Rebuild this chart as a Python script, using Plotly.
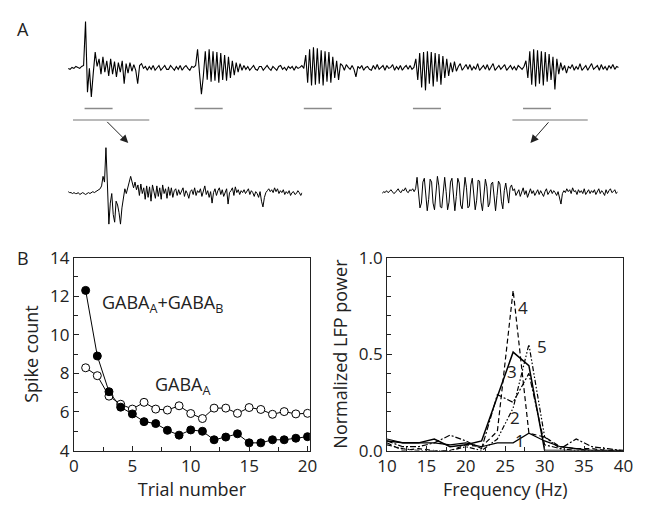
import plotly.graph_objects as go

W, H = 649, 517
FONT = "Open Sans"

# ---------------- Panel A data (LFP traces, amplitude in arbitrary units) -------------
top_seg0 = [0, -1, 1, 0, 2, 1, 0, 2, 3]
top_stim1 = [49, -25, 0, -30, -5, 17, 2, 10, -6, 12, -4, 8, -8, 10, -6, 7, -9, 6, -4, 8,
             -16, 5, -5, 6, -3, 4, -2, -16, 3, 5]
top_base1 = [0, 2, -2, 2, -1, 3, -2, 1, 3, -2, 1, 3, -1, -1, 3, 1, -2, 2, -1, 3, -2, 1, 3, 0,
             -2, 2, 1]
top_burst2 = [3, 20, -5, -27, -8, 18, -12, 20, -14, 18, -13, 17, -15, 16, -12, 14, -13, 12,
              -10, 8, -7]
top_base2 = [6, -4, 5, -2, 3, -1, 2, -2, 1, 3, -1, -2, 2, 2, -2, 0, 3, 0, -2, 2, 0, -2, 2, 3,
             -1, 1, -2, 2, 0, 2, -2, 2, 0, 1, 3, 0]
top_burst3 = [14, -15, 20, -18, 22, -17, 21, -16, 19, -18, 18, -14, 17, -15, 12, -10, 8, -12, 5]
top_base3 = [3, -2, 4, 1, -1, 3, -1, -9, 2, 0, 3, -2, 1, 2, -1, -2, 3, -1, 4, -1, 1, 3, -2, 3,
             0, 1, 4, -2, 2, -1, 3, -2, 1, 3, -1, 3, -1, 1]
top_burst4 = [10, -12, 16, -20, 17, -23, 18, -16, 17, -19, 16, -14, 15, -17, 13, -10, 10, -8,
              6, -4]
top_base4 = [7, -3, 2, 5, -2, 1, 4, -1, 4, -2, 2, -1, 5, -2, 1, 3, -1, 4, -2, 2, 5, -2, 1, 3,
             -1, 2, 4, -2, 1, 3, -1, 2, -2, 3, 1, -1, 2]
top_burst5 = [8, -10, 18, -17, 20, -19, 19, -16, 18, -18, 17, -14, 15, -12, 12, -22, 10, -6]
top_base5 = [6, -2, 3, -5, 2, 0, 4, -2, 2, -1, 5, -2, 1, 3, -2, 2, 5, -1, 1, 3, -2, 4, -1, 2,
             -2, 3, 0, 4, -1, 2, 1]
top_trace = (top_seg0 + top_stim1 + top_base1 + top_burst2 + top_base2 + top_burst3 +
             top_base3 + top_burst4 + top_base4 + top_burst5 + top_base5)

left_trace = [2, 1, 1, 0, 1, 0, 0, 1, -1, 0, 1, 0, -1, 0, 1, 0, 1, 2, 1, 2, 3, 4, 5,
              8, 18, 12, 48, 10, -32, -10, 0, -22, -30, -8, -12, -20, -32, -15, -2, 5, 0, 8,
              12, 18, 10, 6, 12, 4, 9, -2, 10, 0, 6, -6, 8, -4, 7, -8, 9, 2, -5, 8, -3, 6,
              -6, 9, 0, 5, -5, 7, -2, 6, -4, 3, 5, -2, 4, -1, 2, 6, -3, 3, 0, -5, 2, 4, -1,
              6, -2, 3, 1, 5, -3, 2, 8, -1, 3, -4, 2, -10, 1, 5, -2, 3, 6, -1, 4, -3, 2, 5,
              -11, 1, 3, 6, -2, 7, 1, 4, -1, 3, 1, 4, 0, 2, 5, -1, 3, 1, -3, 2, 0, -4, 2, -8,
              -14, -4, 1, 3, 5, 2, 4, 1, 6, 2, 5, 0, 3, 1, 4, -1, 2, 0, 3, -2, 1, 2, -1, 0, 3,
              1, -2, 1]

right_trace = [0, 2, 1, 3, 1, 2, 4, 2, 0, 1, 3, 5, 2, 1, 4, 3, 6, 2, 1, 4, 3, 5, 2,
               5, 17, 3, -15, -10, 12, 16, -4, -18, -6, 15, 12, -10, -17, 2, 18, 8, -14, -15,
               6, 17, 2, -17, -9, 12, 16, -5, -18, -3, 16, 11, -12, -16, 4, 17, 6, -15, -13,
               9, 16, -2, -17, -7, 14, 13, -9, -18, 0, 15, 7, -14, -10, 10, 12, -6, -18, -2,
               13, 10, -8, -16, 3, 11, 2, -10, 6,
               9, 3, 5, -2, 1, 4, -3, 2, 6, -1, 3, -4, 2, 5, 0, 3, -2, 1, 4, -1, 3, 0, -3, 2,
               5, -1, 2, 4, 0, 3, 1, -2, 2, -4, -11, 0, 3, 1, 5, 2, 4, 0, 6, 2, 3, -1, 4, 1, 3,
               0, 5, -1, 2, 4, 0, 3, 1, 4, -1, 2, 5, 0, 3, 1, -2, 4, 0, 3, 5, 1, 2, 4, 0, 2]

stim_onsets = [8.5, 65.5, 122, 178.5, 235.5]   # sample index of stimulus onset
stim_dur = 14.5
zoom_windows = [(2.5, 42), (230, 269)]           # expanded windows (sample index)

# ---------------- Panel B data -------------
trials = list(range(1, 21))
gaba_ab = [12.3, 8.9, 7.05, 6.25, 5.9, 5.5, 5.4, 5.05, 4.8, 5.07, 5.0, 4.56, 4.7, 4.87,
           4.4, 4.4, 4.56, 4.56, 4.64, 4.72]
gaba_a = [8.29, 7.88, 6.82, 6.4, 6.15, 6.5, 6.15, 6.1, 6.32, 5.92, 5.66, 6.2, 6.2, 5.93,
          6.23, 6.13, 5.88, 6.02, 5.9, 5.93]

freq = [10, 12, 14, 16, 18, 20, 22, 24, 26, 28, 30, 32, 34, 36, 38, 40]
pow1 = [0.06, 0.04, 0.04, 0.04, 0.03, 0.04, 0.02, 0.04, 0.04, 0.09, 0.05, 0.02, 0.01, 0.0, 0.0, 0.0]
pow2 = [0.05, 0.02, 0.02, 0.04, 0.08, 0.05, 0.01, 0.29, 0.25, 0.40, 0.03, 0.01, 0.06, 0.02, 0.01, 0.0]
pow3 = [0.05, 0.04, 0.04, 0.06, 0.02, 0.03, 0.05, 0.28, 0.51, 0.44, 0.0, 0.0, 0.0, 0.0, 0.0, 0.0]
pow4 = [0.04, 0.0, 0.01, 0.0, 0.0, 0.03, 0.02, 0.10, 0.83, 0.09, 0.07, 0.02, 0.01, 0.01, 0.0, 0.0]
pow5 = [0.03, 0.01, 0.0, 0.0, 0.0, 0.02, 0.0, 0.06, 0.22, 0.55, 0.07, 0.01, 0.0, 0.0, 0.0, 0.0]
curve_labels = ["1", "2", "3", "4", "5"]
label_pos = [(26.9, 0.05), (26.2, 0.17), (25.9, 0.41), (27.3, 0.74), (29.7, 0.54)]


def dx(a, b):
    return [a / W, b / W]


def dy(top, bottom):
    return [1 - bottom / H, 1 - top / H]


fig = go.Figure()

# ---- Panel A traces
fig.add_trace(go.Scatter(x=list(range(len(top_trace))), y=top_trace, mode="lines",
                         line=dict(color="black", width=1.1), xaxis="x3", yaxis="y3",
                         showlegend=False, hoverinfo="skip"))
sx, sy = [], []
for on in stim_onsets:
    sx += [on, on + stim_dur, None]
    sy += [-42, -42, None]
fig.add_trace(go.Scatter(x=sx, y=sy, mode="lines", line=dict(color="#8a8a8a", width=1.5),
                         xaxis="x3", yaxis="y3", showlegend=False, hoverinfo="skip"))
zx, zy = [], []
for a, b in zoom_windows:
    zx += [a, b, None]
    zy += [-54, -54, None]
fig.add_trace(go.Scatter(x=zx, y=zy, mode="lines", line=dict(color="#777777", width=1.2),
                         xaxis="x3", yaxis="y3", showlegend=False, hoverinfo="skip"))
fig.add_trace(go.Scatter(x=list(range(len(left_trace))), y=left_trace, mode="lines",
                         line=dict(color="black", width=1), xaxis="x4", yaxis="y4",
                         showlegend=False, hoverinfo="skip"))
fig.add_trace(go.Scatter(x=list(range(len(right_trace))), y=right_trace, mode="lines",
                         line=dict(color="black", width=1), xaxis="x5", yaxis="y5",
                         showlegend=False, hoverinfo="skip"))

# ---- Panel B left
fig.add_trace(go.Scatter(x=trials, y=gaba_a, mode="lines+markers",
                         line=dict(color="black", width=1),
                         marker=dict(symbol="circle", size=8, color="white",
                                     line=dict(color="black", width=1)),
                         xaxis="x", yaxis="y", showlegend=False))
fig.add_trace(go.Scatter(x=trials, y=gaba_ab, mode="lines+markers",
                         line=dict(color="black", width=1),
                         marker=dict(symbol="circle", size=8, color="black",
                                     line=dict(color="black", width=1)),
                         xaxis="x", yaxis="y", showlegend=False))

# ---- Panel B right
styles = [dict(dash="solid", width=1.2), dict(dash="6px,2px,2px,2px", width=1.2),
          dict(dash="solid", width=1.5), dict(dash="5px,3px", width=1.2),
          dict(dash="5px,2px,1.5px,2px,1.5px,2px", width=1.2)]
for p, st in zip([pow1, pow2, pow3, pow4, pow5], styles):
    fig.add_trace(go.Scatter(x=freq, y=p, mode="lines",
                             line=dict(color="black", **st),
                             xaxis="x2", yaxis="y2", showlegend=False))

ann = []
for lab, (fx, fy) in zip(curve_labels, label_pos):
    ann.append(dict(x=fx, y=fy, xref="x2", yref="y2", text=lab, showarrow=False,
                    font=dict(size=17, color="#222")))
ann.append(dict(x=2.2, y=11.6, xref="x", yref="y", xanchor="left",
                text="GABA<sub>A</sub>+GABA<sub>B</sub>", showarrow=False,
                font=dict(size=18, color="#222")))
ann.append(dict(x=6.8, y=7.35, xref="x", yref="y", xanchor="left",
                text="GABA<sub>A</sub>", showarrow=False,
                font=dict(size=18, color="#222")))
ann.append(dict(x=13 / W, y=1 - 18 / H, xref="paper", yref="paper", text="A",
                xanchor="center", yanchor="middle",
                showarrow=False, font=dict(size=18, color="#222")))
ann.append(dict(x=13 / W, y=1 - 257 / H, xref="paper", yref="paper", text="B",
                xanchor="center", yanchor="middle",
                showarrow=False, font=dict(size=18, color="#222")))
# expansion arrows
for (hx, hy, tx, ty) in [(122, 137, 98, 113), (537, 137, 558, 113)]:
    ann.append(dict(x=hx / W, y=1 - hy / H, xref="paper", yref="paper",
                    ax=tx - hx, ay=ty - hy, axref="pixel", ayref="pixel",
                    showarrow=True, arrowhead=2, arrowsize=1.6, arrowwidth=1,
                    arrowcolor="#222", text=" "))

axis_common = dict(showline=True, linecolor="#222", linewidth=1, mirror=True,
                   ticks="inside", ticklen=5, tickcolor="#222", showgrid=False,
                   zeroline=False, tickfont=dict(size=17, color="#222", family=FONT))
hidden = dict(visible=False, showgrid=False, zeroline=False, fixedrange=True)

fig.update_layout(
    width=W, height=H, margin=dict(l=0, r=0, t=0, b=0),
    paper_bgcolor="white", plot_bgcolor="white",
    font=dict(family=FONT, color="#222"),
    xaxis=dict(domain=dx(66, 309.4), range=[0, 20.2], tickvals=[0, 5, 10, 15, 20],
               minor=dict(dtick=2.5, ticks="inside", ticklen=4, tickcolor="#222"),
               title=dict(text="Trial number", font=dict(size=18), standoff=6),
               anchor="y", **axis_common),
    yaxis=dict(domain=dy(257, 459), range=[4, 14], tickvals=[4, 6, 8, 10, 12, 14],
               minor=dict(dtick=1, ticks="inside", ticklen=4, tickcolor="#222"),
               title=dict(text="Spike count", font=dict(size=18), standoff=6),
               anchor="x", **axis_common),
    xaxis2=dict(domain=dx(389, 633), range=[10, 40], tickvals=[10, 15, 20, 25, 30, 35, 40],
                minor=dict(dtick=2.5, ticks="inside", ticklen=4, tickcolor="#222"),
                title=dict(text="Frequency (Hz)", font=dict(size=18), standoff=6),
                anchor="y2", **axis_common),
    yaxis2=dict(domain=dy(257, 459), range=[0, 1.0], tickvals=[0, 0.5, 1.0],
                ticktext=["0.0", "0.5", "1.0"],
                minor=dict(dtick=0.1, ticks="inside", ticklen=4, tickcolor="#222"),
                title=dict(text="Normalized LFP power", font=dict(size=18), standoff=6),
                anchor="x2", **axis_common),
    xaxis3=dict(domain=dx(60, 628), range=[0, len(top_trace) - 1], anchor="y3", **hidden),
    yaxis3=dict(domain=dy(5, 115), range=[-56, 54], anchor="x3", **hidden),
    xaxis4=dict(domain=dx(60, 301.5), range=[0, len(left_trace) - 1], anchor="y4", **hidden),
    yaxis4=dict(domain=dy(135, 230), range=[-40, 55], anchor="x4", **hidden),
    xaxis5=dict(domain=dx(384, 627), range=[0, len(right_trace) - 1], anchor="y5", **hidden),
    yaxis5=dict(domain=dy(135, 230), range=[-40, 55], anchor="x5", **hidden),
    annotations=ann,
)

fig.write_html("out.html", config={"displayModeBar": False},
               post_script="document.body.style.margin='0px';")
